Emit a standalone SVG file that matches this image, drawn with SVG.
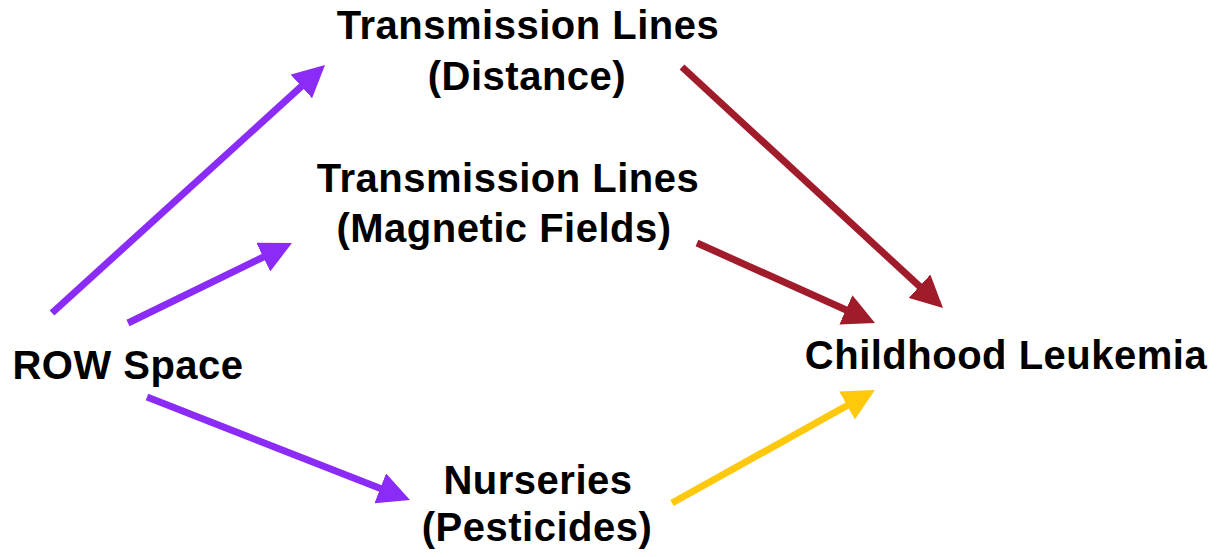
<svg xmlns="http://www.w3.org/2000/svg" width="1221" height="557" viewBox="0 0 1221 557">
  <style>
    .label { font-family: "Liberation Sans", Arial, sans-serif; font-weight: bold; font-size: 40px; letter-spacing: 0.5px; fill: #000; text-anchor: middle; }
    .edge { fill: none; stroke-width: 7; stroke-linecap: butt; }
    .purple { stroke: #8B2BF7; }
    .red { stroke: #A01C2B; }
    .yellow { stroke: #FFC80A; }
  </style>
  <defs>
    <marker id="head-purple" viewBox="0 0 32 32" refX="12" refY="16" markerWidth="32" markerHeight="32" markerUnits="userSpaceOnUse" orient="auto">
      <path d="M0,0 L32,16 L0,32 Z" fill="#8B2BF7"/>
    </marker>
    <marker id="head-red" viewBox="0 0 32 32" refX="12" refY="16" markerWidth="32" markerHeight="32" markerUnits="userSpaceOnUse" orient="auto">
      <path d="M0,0 L32,16 L0,32 Z" fill="#A01C2B"/>
    </marker>
    <marker id="head-yellow" viewBox="0 0 32 32" refX="12" refY="16" markerWidth="32" markerHeight="32" markerUnits="userSpaceOnUse" orient="auto">
      <path d="M0,0 L32,16 L0,32 Z" fill="#FFC80A"/>
    </marker>
  </defs>
  <rect width="1221" height="557" fill="#fff"/>

  <g id="connectors">
    <line class="edge purple" x1="52" y1="313" x2="310.2" y2="78.4" marker-end="url(#head-purple)"/>
    <line class="edge purple" x1="128" y1="323" x2="274" y2="251.8" marker-end="url(#head-purple)"/>
    <line class="edge purple" x1="147" y1="397" x2="391.4" y2="492.7" marker-end="url(#head-purple)"/>
    <line class="edge red" x1="682" y1="67" x2="928.3" y2="294.4" marker-end="url(#head-red)"/>
    <line class="edge red" x1="697" y1="243" x2="856.8" y2="314.8" marker-end="url(#head-red)"/>
    <line class="edge yellow" x1="672" y1="503" x2="857.5" y2="399.7" marker-end="url(#head-yellow)"/>
  </g>

  <g id="row-space">
    <text class="label" x="128" y="379">ROW Space</text>
  </g>
  <g id="tl-distance">
    <text class="label" x="528" y="39">Transmission Lines</text>
    <text class="label" x="527" y="90">(Distance)</text>
  </g>
  <g id="tl-magnetic">
    <text class="label" x="508" y="192">Transmission Lines</text>
    <text class="label" x="504" y="242">(Magnetic Fields)</text>
  </g>
  <g id="nurseries">
    <text class="label" x="538" y="494">Nurseries</text>
    <text class="label" x="537" y="541">(Pesticides)</text>
  </g>
  <g id="leukemia">
    <text class="label" x="1006" y="369">Childhood Leukemia</text>
  </g>
</svg>
